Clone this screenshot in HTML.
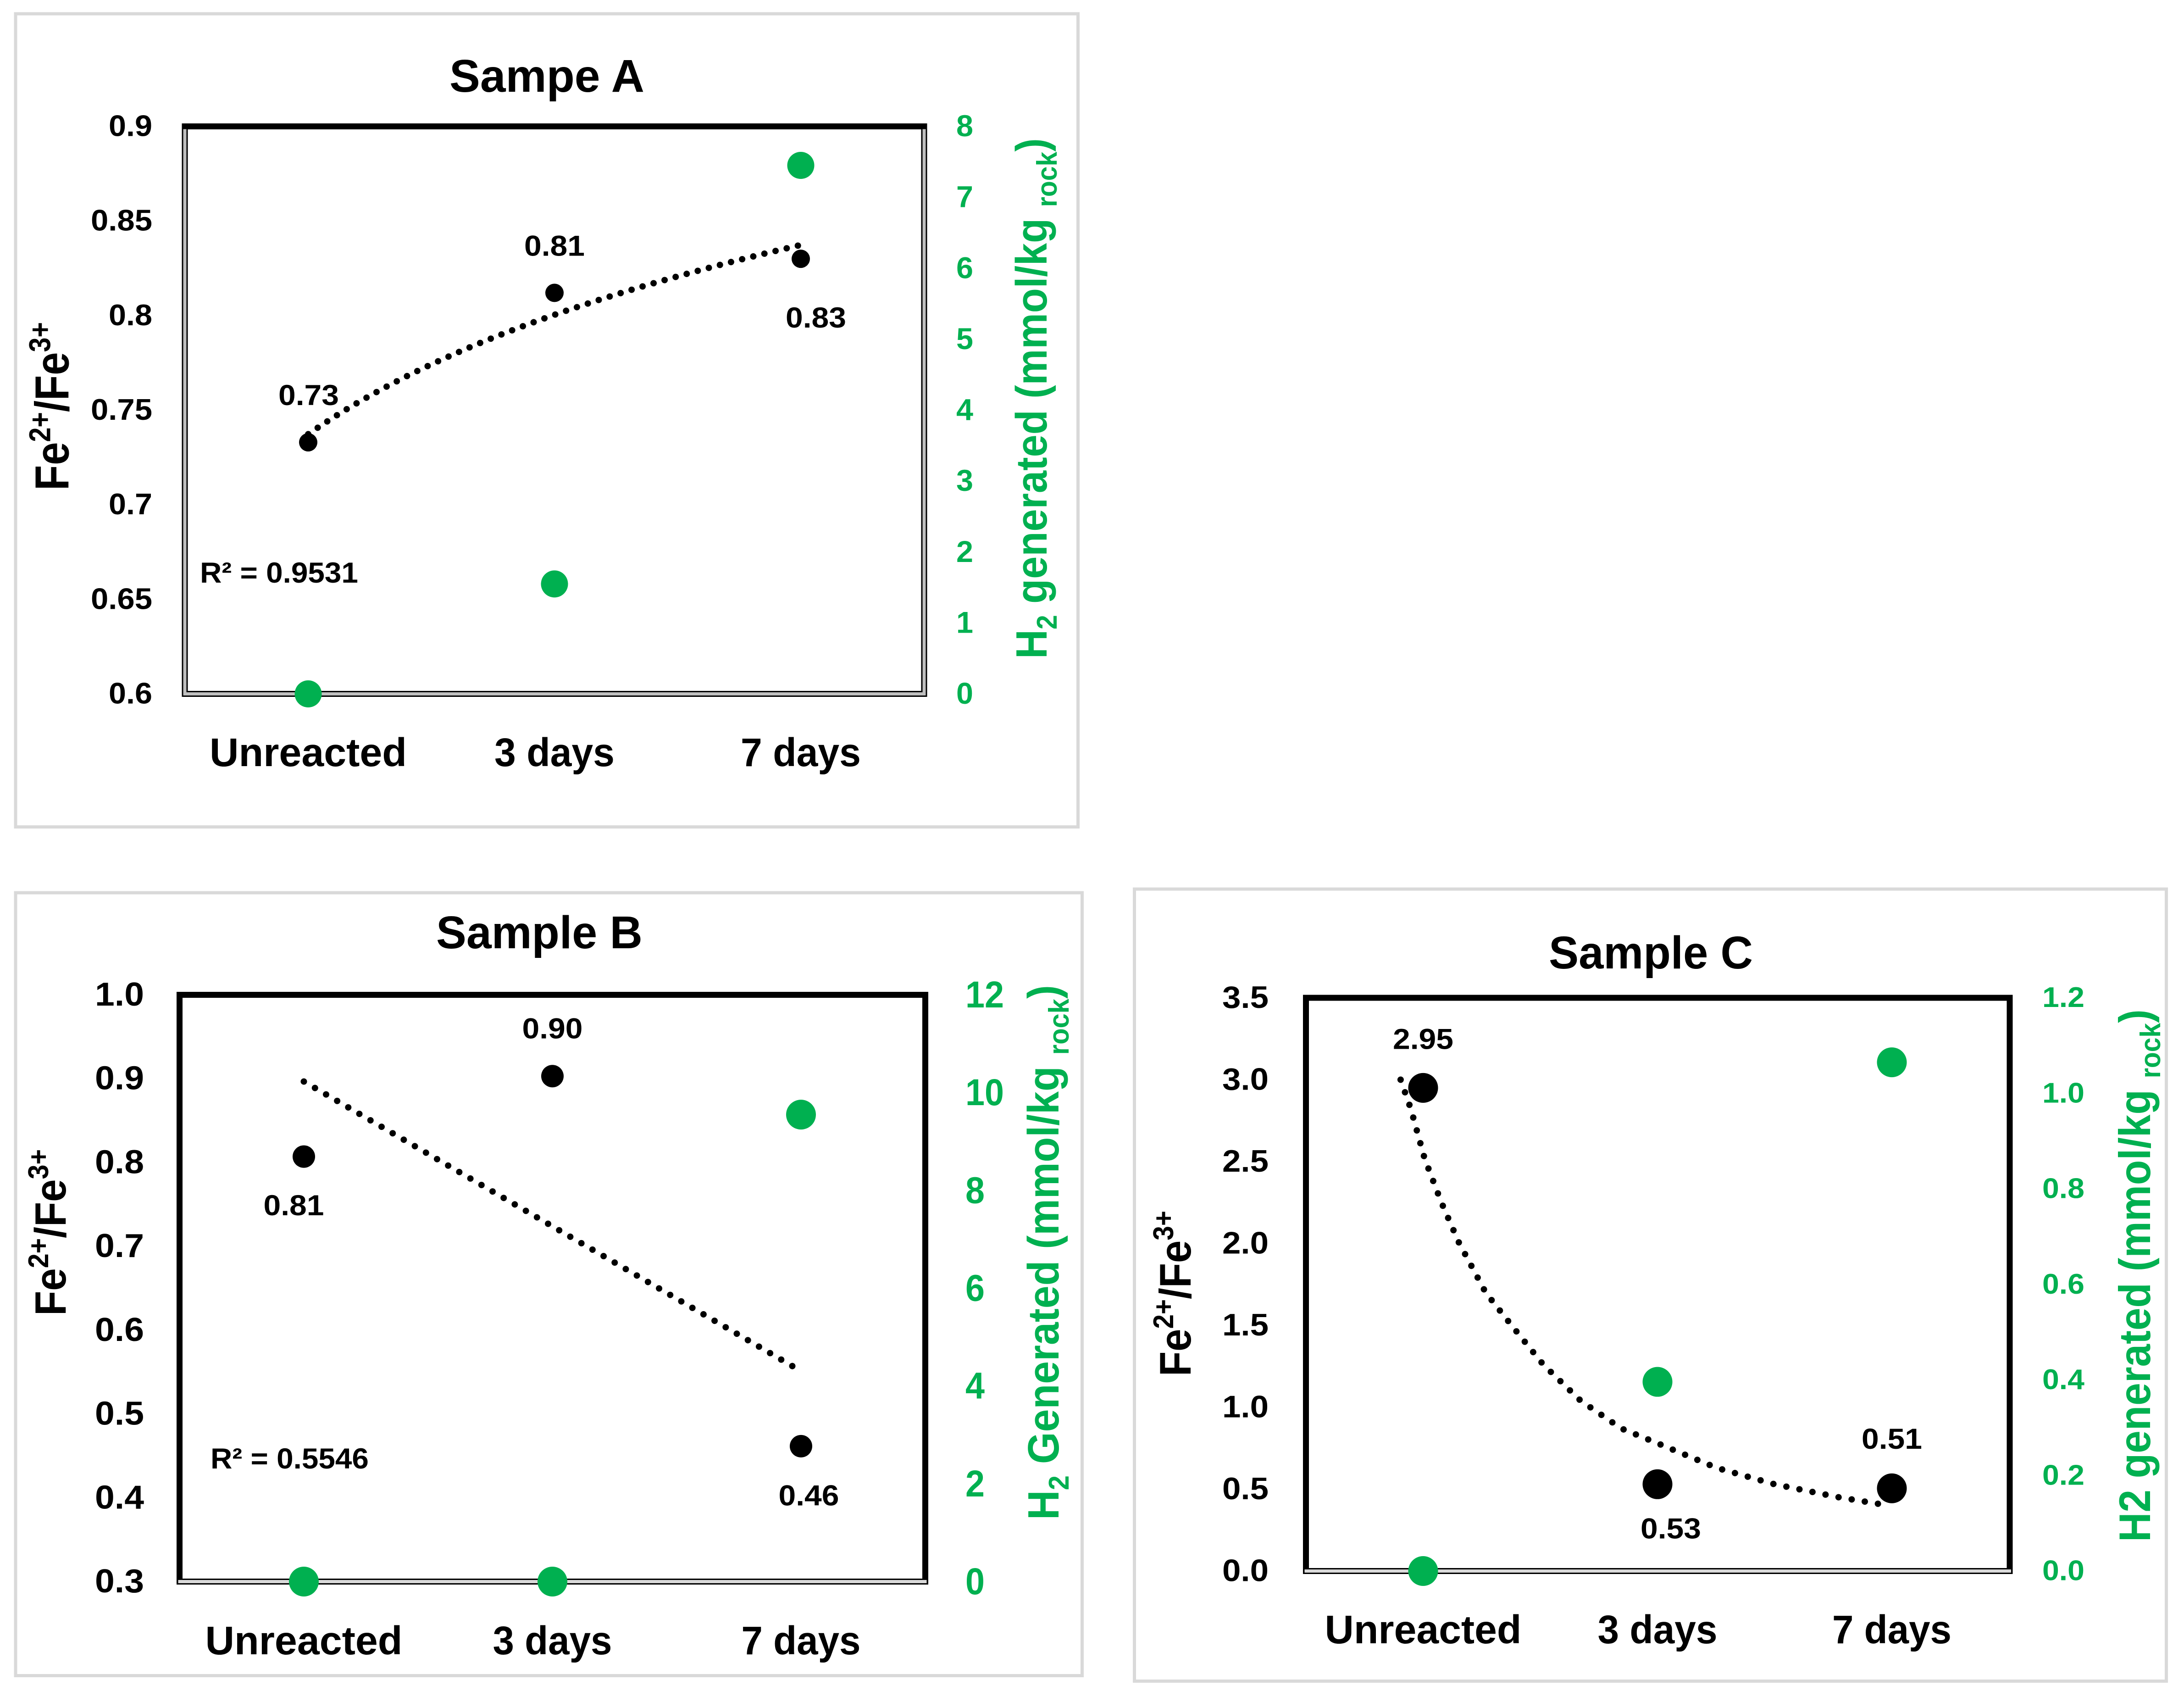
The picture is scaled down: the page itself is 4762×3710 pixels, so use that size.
<!DOCTYPE html>
<html>
<head>
<meta charset="utf-8">
<title>Fe2+/Fe3+ and H2 generated for samples A, B and C</title>
<style>
html,body{margin:0;padding:0;background:#fff;}
svg{display:block;}
text{font-family:"Liberation Sans",sans-serif;font-weight:bold;}
</style>
</head>
<body>
<svg id="figure" xmlns="http://www.w3.org/2000/svg" width="4762" height="3710" viewBox="0 0 4762 3710">
  <rect x="0" y="0" width="4762" height="3710" fill="#ffffff"/>

  <g id="panel-a">
    <rect x="34" y="30" width="2316.5" height="1772.5" fill="#fff" stroke="#d9d9d9" stroke-width="7"/>
    <text data-x="980" data-y="200" data-w="425" font-size="100" fill="#000">Sampe A</text>
    <text data-x="149.5" data-y="1069" data-w="367" data-rot="1" font-size="104" fill="#000">Fe<tspan font-size="66" dy="-40">2+</tspan><tspan dy="40">/Fe</tspan><tspan font-size="66" dy="-40">3+</tspan></text>
    <text data-x="2282" data-y="1436" data-w="1135" data-rot="1" font-size="96" fill="#00b050">H<tspan font-size="62" dy="22">2</tspan><tspan dy="-22"> generated (mmol/kg </tspan><tspan font-size="62" dy="22">rock</tspan><tspan dy="-22">)</tspan></text>
    <text data-x="436" data-y="1270" data-w="345" font-size="63" fill="#000">R² = 0.9531</text>
  </g>

  <g id="panel-b">
    <rect x="34" y="1946" width="2325.5" height="1706.5" fill="#fff" stroke="#d9d9d9" stroke-width="7"/>
    <text data-x="951" data-y="2067" data-w="450" font-size="100" fill="#000">Sample B</text>
    <text data-x="143" data-y="2868" data-w="363" data-rot="1" font-size="96" fill="#000">Fe<tspan font-size="62" dy="-38">2+</tspan><tspan dy="38">/Fe</tspan><tspan font-size="62" dy="-38">3+</tspan></text>
    <text data-x="2308" data-y="3313" data-w="1166" data-rot="1" font-size="96" fill="#00b050">H<tspan font-size="62" dy="22">2</tspan><tspan dy="-22"> Generated (mmol/kg </tspan><tspan font-size="62" dy="22">rock</tspan><tspan dy="-22">)</tspan></text>
    <text data-x="459" data-y="3201" data-w="345" font-size="63" fill="#000">R² = 0.5546</text>
  </g>

  <g id="panel-c">
    <rect x="2473.5" y="1938" width="2250" height="1726.5" fill="#fff" stroke="#d9d9d9" stroke-width="7"/>
    <text data-x="3377" data-y="2111" data-w="445" font-size="100" fill="#000">Sample C</text>
    <text data-x="2596" data-y="3000" data-w="361" data-rot="1" font-size="97" fill="#000">Fe<tspan font-size="62" dy="-38">2+</tspan><tspan dy="38">/Fe</tspan><tspan font-size="62" dy="-38">3+</tspan></text>
    <text data-x="4688" data-y="3361" data-w="1161" data-rot="1" font-size="97" fill="#00b050">H2 generated (mmol/kg <tspan font-size="62" dy="22">rock</tspan><tspan dy="-22">)</tspan></text>
  </g>
</svg>

<script>
const categories = ['Unreacted', '3 days', '7 days'];

const ratioA = [0.733, 0.812, 0.83];
const ratioLabelsA = ['0.73', '0.81', '0.83'];
const h2A = [0, 1.55, 7.45];
const leftTicksA = ['0.6', '0.65', '0.7', '0.75', '0.8', '0.85', '0.9'];
const rightTicksA = ['0', '1', '2', '3', '4', '5', '6', '7', '8'];

const ratioB = [0.807, 0.903, 0.4615];
const ratioLabelsB = ['0.81', '0.90', '0.46'];
const h2B = [0, 0, 9.55];
const leftTicksB = ['0.3', '0.4', '0.5', '0.6', '0.7', '0.8', '0.9', '1.0'];
const rightTicksB = ['0', '2', '4', '6', '8', '10', '12'];

const ratioC = [2.95, 0.53, 0.505];
const ratioLabelsC = ['2.95', '0.53', '0.51'];
const h2C = [0, 0.396, 1.065];
const leftTicksC = ['0.0', '0.5', '1.0', '1.5', '2.0', '2.5', '3.0', '3.5'];
const rightTicksC = ['0.0', '0.2', '0.4', '0.6', '0.8', '1.0', '1.2'];
const trendCategoryC = [0.904, 0.948, 1.006, 1.078, 1.151, 1.267, 1.383, 1.513, 1.672, 1.846, 2, 2.252, 2.499, 2.774, 2.986];
const trendValueC = [3.0, 2.82, 2.52, 2.25, 2.01, 1.70, 1.49, 1.26, 1.04, 0.87, 0.78, 0.63, 0.53, 0.45, 0.40];

const NS = 'http://www.w3.org/2000/svg';
const BLACK = '#000000';
const GREEN = '#00b050';

function shape(parent, tag, attrs) {
  const el = document.createElementNS(NS, tag);
  for (const k in attrs) el.setAttribute(k, attrs[k]);
  parent.appendChild(el);
  return el;
}

function fit(el, x, y, w, rotated) {
  const len = el.getComputedTextLength();
  const sx = len > 0 ? w / len : 1;
  el.setAttribute('transform', 'translate(' + x + ' ' + y + ')' + (rotated ? ' rotate(-90)' : '') + ' scale(' + sx + ' 1)');
}

function label(parent, str, x, y, size, fill, w, anchor) {
  const el = shape(parent, 'text', { 'font-size': size, fill: fill, 'text-anchor': anchor });
  el.textContent = str;
  fit(el, x, y, w, false);
  return el;
}

function tickWidth(s, digit, dot) {
  let w = 0;
  for (const c of s) w += c === '.' ? dot : digit;
  return w;
}

function linearFit(xs, ys) {
  const n = xs.length;
  const mx = xs.reduce((a, b) => a + b, 0) / n;
  const my = ys.reduce((a, b) => a + b, 0) / n;
  let sxy = 0, sxx = 0;
  xs.forEach((x, i) => { sxy += (x - mx) * (ys[i] - my); sxx += (x - mx) * (x - mx); });
  const b = sxy / sxx;
  return { a: my - b * mx, b: b };
}

function buildPanel(cfg) {
  const g = document.getElementById(cfg.id);
  const L = cfg.layout;
  const xOf = c => L.firstCatX + (c - 1) * L.catStep;
  const yLeft = v => L.bottom - (v - cfg.leftMin) / (cfg.leftMax - cfg.leftMin) * (L.bottom - L.top);
  const yRight = v => L.bottom - (v - cfg.rightMin) / (cfg.rightMax - cfg.rightMin) * (L.bottom - L.top);

  const plot = shape(g, 'rect', { x: L.left, y: L.top, width: L.right - L.left, height: L.bottom - L.top, fill: 'none', stroke: BLACK, 'stroke-width': 13 });
  
  

  const inner = 'M' + L.left + ' ' + (L.top + 6) + ' V' + L.bottom + ' H' + L.right + ' V' + (L.top + 6);
  const innerBottom = 'M' + (L.left - 3) + ' ' + L.bottom + ' H' + (L.right + 3);
  const gray = shape(g, 'path', { d: cfg.grayAllSides ? inner : innerBottom, fill: 'none', stroke: cfg.grayColor, 'stroke-width': 7 });
  
  

  const nLeft = cfg.leftTicks.length;
  cfg.leftTicks.forEach((t, i) => {
    const v = cfg.leftMin + i * (cfg.leftMax - cfg.leftMin) / (nLeft - 1);
    const el = label(g, t, L.leftTickX, yLeft(v) + L.leftTickH / 2 - 2, L.leftTickSize, BLACK, tickWidth(t, L.leftDigit, L.leftDot), 'end');
    
    
  });

  const nRight = cfg.rightTicks.length;
  cfg.rightTicks.forEach((t, i) => {
    const v = cfg.rightMin + i * (cfg.rightMax - cfg.rightMin) / (nRight - 1);
    const el = label(g, t, L.rightTickX, yRight(v) + L.rightTickH / 2 - 2, L.rightTickSize, GREEN, tickWidth(t, L.rightDigit, L.rightDot), 'start');
    
    
  });

  categories.forEach((c, i) => {
    const el = label(g, c, xOf(i + 1), L.catBaseline, 87, BLACK, L.catWidths[i], 'middle');
    
    
  });

  const trendPoints = [];
  if (cfg.trendKind === 'log' || cfg.trendKind === 'linear') {
    const pos = cfg.ratio.map((_, i) => i + 1);
    const basis = cfg.trendKind === 'log' ? pos.map(Math.log) : pos;
    const model = linearFit(basis, cfg.ratio);
    const steps = 40;
    for (let s = 0; s <= steps; s++) {
      const c = 1 + (pos.length - 1) * s / steps;
      const u = cfg.trendKind === 'log' ? Math.log(c) : c;
      trendPoints.push(xOf(c).toFixed(1) + ',' + yLeft(model.a + model.b * u).toFixed(1));
    }
  } else {
    cfg.trendCategory.forEach((c, i) => {
      trendPoints.push(xOf(c).toFixed(1) + ',' + yLeft(cfg.trendValue[i]).toFixed(1));
    });
  }
  const trend = shape(g, 'polyline', { points: trendPoints.join(' '), fill: 'none', stroke: BLACK, 'stroke-width': 14, 'stroke-linecap': 'round', 'stroke-dasharray': '0.01 ' + L.dotGap });
  
  

  cfg.ratio.forEach((v, i) => {
    const m = shape(g, 'ellipse', { cx: xOf(i + 1), cy: yLeft(v), rx: L.blackR, ry: L.blackR, fill: BLACK });
    
    
  });

  cfg.h2.forEach((v, i) => {
    const m = shape(g, 'ellipse', { cx: xOf(i + 1), cy: yRight(v), rx: L.greenR, ry: L.greenR, fill: GREEN });
    
    
  });

  cfg.labels.forEach((t, i) => {
    const el = label(g, t, xOf(i + 1) + cfg.nudgeX[i], yLeft(cfg.ratio[i]) + cfg.nudgeY[i], 63, BLACK, 132, 'middle');
    
    
  });
}

document.querySelectorAll('[data-w]').forEach(el => {
  fit(el, +el.getAttribute('data-x'), +el.getAttribute('data-y'), +el.getAttribute('data-w'), el.hasAttribute('data-rot'));
});

buildPanel({
  id: 'panel-a', ratio: ratioA, labels: ratioLabelsA, h2: h2A,
  leftTicks: leftTicksA, rightTicks: rightTicksA,
  leftMin: 0.6, leftMax: 0.9, rightMin: 0, rightMax: 8,
  trendKind: 'log', grayAllSides: true, grayColor: '#bfbfbf',
  nudgeX: [1, 0, 33], nudgeY: [-81, -81, 150],
  layout: { left: 403, right: 2015, top: 275.5, bottom: 1512.5, firstCatX: 672, catStep: 537,
    leftTickX: 332, leftTickSize: 65, leftTickH: 46, leftDigit: 39, leftDot: 17,
    rightTickX: 2085, rightTickSize: 66, rightTickH: 47, rightDigit: 37, rightDot: 17,
    catBaseline: 1670, catWidths: [430, 262, 262], blackR: 20, greenR: 29.5, dotGap: 25 }
});

buildPanel({
  id: 'panel-b', ratio: ratioB, labels: ratioLabelsB, h2: h2B,
  leftTicks: leftTicksB, rightTicks: rightTicksB,
  leftMin: 0.3, leftMax: 1.0, rightMin: 0, rightMax: 12,
  trendKind: 'linear', grayAllSides: false, grayColor: '#d9d9d9',
  nudgeX: [-22, 0, 17], nudgeY: [128, -82, 129],
  layout: { left: 391.5, right: 2017.5, top: 2168.5, bottom: 3447.5, firstCatX: 662.5, catStep: 542,
    leftTickX: 314, leftTickSize: 72, leftTickH: 51, leftDigit: 43, leftDot: 21,
    rightTickX: 2105, rightTickSize: 82, rightTickH: 59, rightDigit: 42, rightDot: 20,
    catBaseline: 3606, catWidths: [430, 260, 260], blackR: 24.5, greenR: 32.5, dotGap: 28 }
});

buildPanel({
  id: 'panel-c', ratio: ratioC, labels: ratioLabelsC, h2: h2C,
  leftTicks: leftTicksC, rightTicks: rightTicksC,
  leftMin: 0, leftMax: 3.5, rightMin: 0, rightMax: 1.2,
  trendKind: 'points', trendCategory: trendCategoryC, trendValue: trendValueC,
  grayAllSides: false, grayColor: '#d9d9d9',
  nudgeX: [0, 29, 0], nudgeY: [-85, 118, -86],
  layout: { left: 2847.5, right: 4382, top: 2175, bottom: 3424.5, firstCatX: 3103, catStep: 511,
    leftTickX: 2766, leftTickSize: 68, leftTickH: 48, leftDigit: 41, leftDot: 19,
    rightTickX: 4453, rightTickSize: 62, rightTickH: 44, rightDigit: 37, rightDot: 18,
    catBaseline: 3582, catWidths: [429, 261, 260], blackR: 32.5, greenR: 32.5, dotGap: 29 }
});
</script>
</body>
</html>
